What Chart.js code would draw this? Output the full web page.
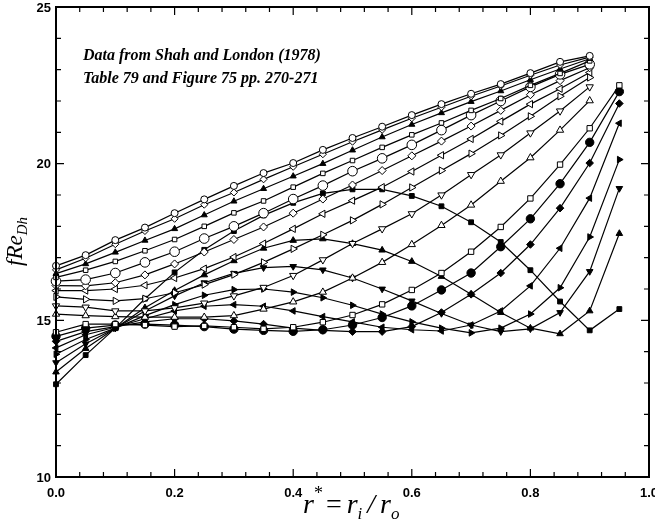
<!DOCTYPE html>
<html>
<head>
<meta charset="utf-8">
<script src="https://cdn.jsdelivr.net/npm/chart.js@4"></script>
<style>
  body { margin: 0; background: #fff; }
  #wrap { width: 655px; height: 519px; }
</style>
</head>
<body>
<div id="wrap"><canvas id="frChart" width="655" height="519"></canvas></div>
<script>
// r* = ri/ro values where the table gives fRe
var rStar = [0, 0.05, 0.1, 0.15, 0.2, 0.25, 0.3, 0.35, 0.4, 0.45, 0.5, 0.55, 0.6, 0.65, 0.7, 0.75, 0.8, 0.85, 0.9, 0.95];

// upper family, ends at r* = 0.9
var openCircleSmall = [16.74, 17.08, 17.56, 17.96, 18.42, 18.86, 19.29, 19.7, 20.02, 20.44, 20.82, 21.18, 21.55, 21.9, 22.23, 22.54, 22.89, 23.25, 23.44];
var openDiamondSmall = [16.61, 16.98, 17.43, 17.85, 18.24, 18.69, 19.08, 19.5, 19.9, 20.3, 20.7, 21.08, 21.45, 21.8, 22.15, 22.48, 22.82, 23.15, 23.4];
var filledTriSmall = [16.49, 16.8, 17.17, 17.55, 17.92, 18.36, 18.8, 19.2, 19.6, 20.0, 20.43, 20.85, 21.25, 21.62, 21.98, 22.32, 22.68, 23.02, 23.35];
var dotSquare = [16.37, 16.6, 16.88, 17.22, 17.58, 18.0, 18.43, 18.81, 19.25, 19.69, 20.1, 20.52, 20.92, 21.3, 21.7, 22.08, 22.5, 22.88, 23.28];
var openCircleLarge = [16.25, 16.3, 16.51, 16.85, 17.19, 17.61, 18.0, 18.42, 18.87, 19.3, 19.76, 20.17, 20.6, 21.07, 21.55, 22.0, 22.45, 22.85, 23.17];
var openDiamond = [16.11, 16.1, 16.2, 16.45, 16.8, 17.18, 17.58, 17.98, 18.42, 18.87, 19.32, 19.78, 20.25, 20.72, 21.2, 21.7, 22.2, 22.65, 23.06];
var openLeftTri = [15.95, 15.95, 16.0, 16.12, 16.35, 16.65, 17.02, 17.45, 17.92, 18.4, 18.82, 19.25, 19.75, 20.27, 20.79, 21.35, 21.9, 22.39, 22.91];
var openRightTri = [15.75, 15.67, 15.62, 15.69, 15.88, 16.14, 16.46, 16.85, 17.28, 17.73, 18.19, 18.7, 19.24, 19.78, 20.32, 20.9, 21.51, 22.15, 22.75];
var openDownTri = [15.46, 15.42, 15.3, 15.3, 15.4, 15.55, 15.78, 16.05, 16.43, 16.93, 17.45, 17.92, 18.4, 19.0, 19.65, 20.28, 20.98, 21.68, 22.45];
var openUpTri = [15.2, 15.15, 15.12, 15.1, 15.1, 15.1, 15.15, 15.36, 15.59, 15.9, 16.35, 16.85, 17.42, 18.03, 18.68, 19.44, 20.19, 21.07, 22.01];

// lower family, ends at r* = 0.95
var openSquare = [14.62, 14.88, 14.88, 14.85, 14.8, 14.82, 14.78, 14.73, 14.78, 14.94, 15.17, 15.51, 15.97, 16.51, 17.19, 17.98, 18.89, 19.97, 21.13, 22.5];
var filledCircle = [14.49, 14.75, 14.85, 14.88, 14.85, 14.8, 14.72, 14.68, 14.65, 14.7, 14.85, 15.09, 15.46, 15.97, 16.51, 17.35, 18.24, 19.36, 20.68, 22.3];
var filledDiamond = [14.33, 14.64, 14.8, 14.95, 15.05, 15.05, 14.98, 14.88, 14.75, 14.68, 14.64, 14.64, 14.8, 15.25, 15.83, 16.51, 17.42, 18.58, 20.02, 21.92];
var filledLeftTri = [14.12, 14.54, 14.78, 15.05, 15.3, 15.45, 15.5, 15.45, 15.3, 15.12, 14.95, 14.78, 14.7, 14.66, 14.85, 15.3, 16.1, 17.3, 18.9, 21.29];
var filledRightTri = [13.92, 14.39, 14.75, 15.15, 15.5, 15.8, 15.98, 16.0, 15.9, 15.72, 15.48, 15.2, 14.95, 14.75, 14.6, 14.75, 15.2, 16.04, 17.66, 20.13];
var filledDownTri = [13.65, 14.25, 14.75, 15.3, 15.78, 16.2, 16.5, 16.68, 16.72, 16.61, 16.35, 16.0, 15.62, 15.22, 14.85, 14.64, 14.73, 15.25, 16.56, 19.21];
var filledUpTri = [13.35, 14.1, 14.75, 15.4, 15.95, 16.45, 16.9, 17.3, 17.55, 17.6, 17.45, 17.24, 16.88, 16.4, 15.83, 15.25, 14.75, 14.57, 15.3, 17.77];
var filledSquare = [12.96, 13.89, 14.75, 15.69, 16.53, 17.25, 17.85, 18.35, 18.75, 19.05, 19.18, 19.18, 18.97, 18.64, 18.13, 17.5, 16.6, 15.6, 14.68, 15.36];

// axis labels
var xTickLabels = ['0.0', '0.2', '0.4', '0.6', '0.8', '1.0'];
var yTickLabels = ['10', '15', '20', '25'];
var noteLines = ['Data from Shah and London (1978)', 'Table 79 and Figure 75 pp. 270-271'];

function pts(vals) {
	return vals.map(function(v, i) { return {x: rStar[i], y: v}; });
}

function series(name, vals, style, filled, radius, rot) {
	return {
		label: name,
		data: pts(vals),
		borderColor: '#000',
		borderWidth: 1.2,
		pointStyle: style,
		pointRotation: rot || 0,
		pointRadius: radius,
		pointBorderWidth: 1,
		pointBorderColor: '#000',
		pointBackgroundColor: filled ? '#000' : '#fff',
		clip: false,
		tension: 0
	};
}

var datasets = [
	series('open circle', openCircleSmall, 'circle', false, 3.5),
	series('open diamond small', openDiamondSmall, 'rectRot', false, 3.5),
	series('filled triangle small', filledTriSmall, 'triangle', true, 3.5),
	series('dot square', dotSquare, 'rect', false, 3.2),
	series('open circle large', openCircleLarge, 'circle', false, 4.8),
	series('open diamond', openDiamond, 'rectRot', false, 4),
	series('open left triangle', openLeftTri, 'triangle', false, 4.2, 270),
	series('open right triangle', openRightTri, 'triangle', false, 4.2, 90),
	series('open down triangle', openDownTri, 'triangle', false, 4.2, 180),
	series('open up triangle', openUpTri, 'triangle', false, 4.2),
	series('open square', openSquare, 'rect', false, 3.8),
	series('filled circle', filledCircle, 'circle', true, 4.2),
	series('filled diamond', filledDiamond, 'rectRot', true, 3.8),
	series('filled left triangle', filledLeftTri, 'triangle', true, 3.8, 270),
	series('filled right triangle', filledRightTri, 'triangle', true, 3.8, 90),
	series('filled down triangle', filledDownTri, 'triangle', true, 3.8, 180),
	series('filled up triangle', filledUpTri, 'triangle', true, 3.8),
	series('filled square', filledSquare, 'rect', true, 3.4)
];

// frame, inward ticks, tick labels and titles
var decor = {
	id: 'decor',
	afterDatasetsDraw: function(chart) {
		var ctx = chart.ctx, a = chart.chartArea;
		var xs = chart.scales.x, ys = chart.scales.y;
		ctx.save();
		ctx.strokeStyle = '#000';
		ctx.lineWidth = 2;
		ctx.strokeRect(a.left, a.top, a.right - a.left, a.bottom - a.top);

		ctx.lineWidth = 1.2;
		ctx.beginPath();
		for (var i = 0; i <= 25; i++) {
			var px = xs.getPixelForValue(i * 0.04);
			var len = (i % 5 == 0) ? 8 : 5;
			ctx.moveTo(px, a.bottom); ctx.lineTo(px, a.bottom - len);
			ctx.moveTo(px, a.top); ctx.lineTo(px, a.top + len);
		}
		for (var j = 10; j <= 25; j++) {
			var py = ys.getPixelForValue(j);
			var ylen = (j % 5 == 0) ? 8 : 5;
			ctx.moveTo(a.left, py); ctx.lineTo(a.left + ylen, py);
			ctx.moveTo(a.right, py); ctx.lineTo(a.right - ylen, py);
		}
		ctx.stroke();

		ctx.fillStyle = '#000';
		ctx.font = 'bold 13px "Liberation Sans", Arial, sans-serif';
		ctx.textAlign = 'center';
		ctx.textBaseline = 'middle';
		xTickLabels.forEach(function(t) {
			ctx.fillText(t, xs.getPixelForValue(parseFloat(t)), a.bottom + 16);
		});
		ctx.textAlign = 'right';
		yTickLabels.forEach(function(t) {
			ctx.fillText(t, a.left - 5, ys.getPixelForValue(parseFloat(t)) + 1);
		});

		// note in the upper left
		ctx.textAlign = 'left';
		ctx.textBaseline = 'alphabetic';
		ctx.font = 'italic bold 16px "Liberation Serif", "Times New Roman", serif';
		ctx.fillText(noteLines[0], a.left + 27, a.top + 53);
		ctx.fillText(noteLines[1], a.left + 27, a.top + 76);

		// x title: r* = ri / ro
		var bx = 303, by = 513;
		var big = 'italic 28px "Liberation Serif", serif';
		var small = 'italic 17px "Liberation Serif", serif';
		var up = '18px "Liberation Serif", serif';
		ctx.font = big; ctx.fillText('r', bx, by); bx += ctx.measureText('r').width;
		ctx.font = up; ctx.fillText('*', bx, by - 14); bx += ctx.measureText('*').width + 3;
		ctx.font = '28px "Liberation Serif", serif'; ctx.fillText('=', bx, by); bx += ctx.measureText('=').width + 5;
		ctx.font = big; ctx.fillText('r', bx, by); bx += ctx.measureText('r').width;
		ctx.font = small; ctx.fillText('i', bx, by + 6); bx += ctx.measureText('i').width + 5;
		ctx.font = big; ctx.fillText('/', bx, by); bx += ctx.measureText('/').width + 5;
		ctx.fillText('r', bx, by); bx += ctx.measureText('r').width;
		ctx.font = small; ctx.fillText('o', bx, by + 6);

		// y title: fRe_Dh
		ctx.translate(22, 266);
		ctx.rotate(-Math.PI / 2);
		var tx = 0;
		ctx.font = 'italic 23px "Liberation Serif", serif';
		ctx.fillText('fRe', tx, 0); tx += ctx.measureText('fRe').width;
		ctx.font = 'italic 15px "Liberation Serif", serif';
		ctx.fillText('Dh', tx, 5);
		ctx.restore();
	}
};

var chart = new Chart(document.getElementById('frChart').getContext('2d'), {
	type: 'line',
	data: { datasets: datasets },
	options: {
		responsive: false,
		animation: false,
		devicePixelRatio: 1,
		layout: { padding: { left: 56, right: 6, top: 7, bottom: 42 } },
		plugins: { legend: { display: false }, tooltip: { enabled: false } },
		scales: {
			x: { type: 'linear', min: 0, max: 1, display: false },
			y: { type: 'linear', min: 10, max: 25, display: false }
		}
	},
	plugins: [decor]
});
</script>
</body>
</html>
